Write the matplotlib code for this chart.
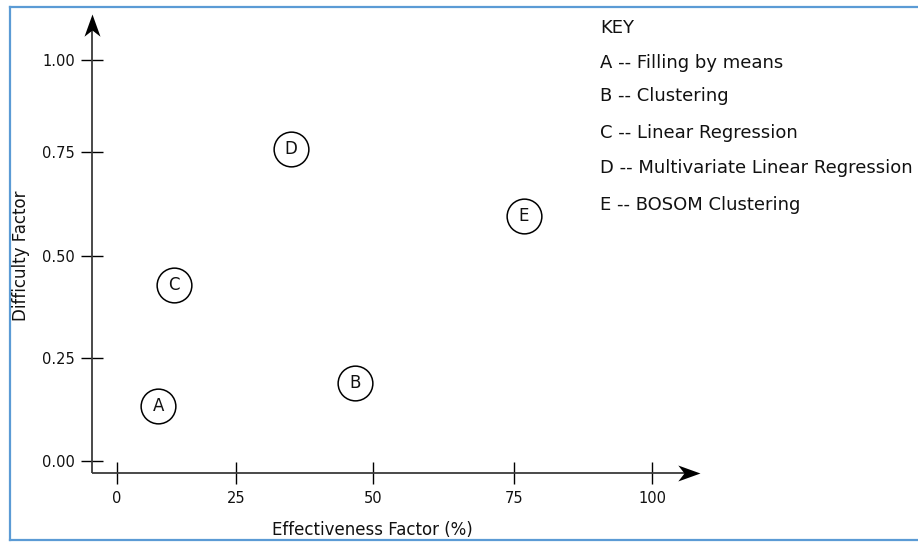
import numpy as np
import matplotlib
matplotlib.use("Agg")
import matplotlib.pyplot as plt
from matplotlib.lines import Line2D
from matplotlib.path import Path

# ---- data ----
labels = ["A", "B", "C", "D", "E"]
effectiveness = [8.7, 46.7, 12.0, 35.0, 76.8]
difficulty = [0.134, 0.189, 0.429, 0.758, 0.596]

x_ticks = [0, 25, 50, 75, 100]
y_ticks = [0.0, 0.25, 0.5, 0.75, 1.0]
x_ticklabels = ["0", "25", "50", "75", "100"]
y_ticklabels = ["0.00", "0.25", "0.50", "0.75", "1.00"]

key_title = "KEY"
key_lines = ["A -- Filling by means", "B -- Clustering", "C -- Linear Regression",
             "D -- Multivariate Linear Regression", "E -- BOSOM Clustering"]

# ---- hand-drawn (non-uniform) axis calibration: pixel position of each tick ----
W, H = 918, 542
x_tick_px = [117, 236, 373, 514, 652]
y_tick_px = [H - p for p in (461, 358, 256, 152, 60)]


def piecewise(vals, pix):
    vals = np.asarray(vals, float)
    pix = np.asarray(pix, float)
    s0 = (pix[1] - pix[0]) / (vals[1] - vals[0])
    s1 = (pix[-1] - pix[-2]) / (vals[-1] - vals[-2])

    def fwd(v):
        v = np.asarray(v, float)
        out = np.interp(v, vals, pix)
        out = np.where(v < vals[0], pix[0] + (v - vals[0]) * s0, out)
        out = np.where(v > vals[-1], pix[-1] + (v - vals[-1]) * s1, out)
        return out

    def inv(p):
        p = np.asarray(p, float)
        out = np.interp(p, pix, vals)
        out = np.where(p < pix[0], vals[0] + (p - pix[0]) / s0, out)
        out = np.where(p > pix[-1], vals[-1] + (p - pix[-1]) / s1, out)
        return out

    return fwd, inv


fx, ix = piecewise(x_ticks, x_tick_px)
fy, iy = piecewise(y_ticks, y_tick_px)

plt.rcParams["font.family"] = ["DejaVu Sans"]
fig = plt.figure(figsize=(W / 100, H / 100), dpi=100)

ax_left, ax_right = 92, 700
ax_bottom, ax_top = H - 473, H - 14
ax = fig.add_axes([ax_left / W, ax_bottom / H, (ax_right - ax_left) / W, (ax_top - ax_bottom) / H])
ax.set_xscale("function", functions=(fx, ix))
ax.set_yscale("function", functions=(fy, iy))
ax.set_xlim(float(ix(ax_left)), float(ix(ax_right)))
ax.set_ylim(float(iy(ax_bottom)), float(iy(ax_top)))
ax.patch.set_alpha(0)

for s in ax.spines.values():
    s.set_visible(False)

ax.set_xticks(x_ticks)
ax.set_xticklabels(x_ticklabels)
ax.set_yticks(y_ticks)
ax.set_yticklabels(y_ticklabels)
ax.minorticks_off()
ax.tick_params(direction="inout", length=16.5, width=1.0, color="black",
               labelsize=10.5, labelcolor="#111111")
ax.tick_params(axis="x", pad=5)
ax.tick_params(axis="y", pad=4)

# axis lines with stealth arrowheads
axis_col = "#3a3a3a"
ax.plot([0, 0.99], [0, 0], transform=ax.transAxes, color=axis_col, lw=1.3,
        clip_on=False, solid_capstyle="butt")
ax.plot([0, 0], [0, 0.985], transform=ax.transAxes, color=axis_col, lw=1.3,
        clip_on=False, solid_capstyle="butt")
head_right = Path([(0, 0), (-1, 0.36), (-0.72, 0), (-1, -0.36), (0, 0)],
                  [Path.MOVETO, Path.LINETO, Path.LINETO, Path.LINETO, Path.CLOSEPOLY])
head_up = Path([(0, 0), (0.36, -1), (0, -0.72), (-0.36, -1), (0, 0)],
               [Path.MOVETO, Path.LINETO, Path.LINETO, Path.LINETO, Path.CLOSEPOLY])
ax.plot([1], [0], transform=ax.transAxes, marker=head_right, markersize=32,
        color="black", markeredgewidth=0, clip_on=False, linestyle="none")
ax.plot([0], [1], transform=ax.transAxes, marker=head_up, markersize=32,
        color="black", markeredgewidth=0, clip_on=False, linestyle="none")

# circled letters
ax.scatter(effectiveness, difficulty, s=25 ** 2, facecolors="white",
           edgecolors="black", linewidths=1.1, zorder=3, clip_on=False)
for lab, xv, yv in zip(labels, effectiveness, difficulty):
    ax.text(xv, yv, lab, ha="center", va="center", fontsize=12, zorder=4, color="#111111")

# axis labels
fig.text(372 / W, 1 - 530 / H, "Effectiveness Factor (%)", ha="center", va="center",
         fontsize=12, color="#111111")
fig.text(21 / W, 1 - 256 / H, "Difficulty Factor", ha="center", va="center",
         rotation=90, fontsize=12, color="#111111")

# key
key_y = [28, 63, 96, 133, 168, 205]
fig.text(600 / W, 1 - key_y[0] / H, key_title, ha="left", va="center", fontsize=13,
         color="#111111")
for t, yy in zip(key_lines, key_y[1:]):
    fig.text(600 / W, 1 - yy / H, t, ha="left", va="center", fontsize=13, color="#111111")

# light blue frame
bc = "#5B9BD5"
fr_l, fr_t, fr_b = 10, 7, 540
for xs, ys in [((fr_l, W + 5), (fr_t, fr_t)), ((fr_l, W + 5), (fr_b, fr_b)),
               ((fr_l, fr_l), (fr_t, fr_b))]:
    fig.add_artist(Line2D([x / W for x in xs], [1 - y / H for y in ys],
                          transform=fig.transFigure, color=bc, lw=1.6))

fig.savefig("out.png", dpi=100)
